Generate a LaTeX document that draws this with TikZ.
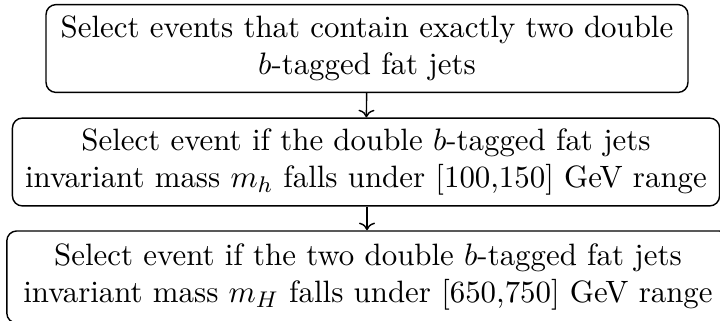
\documentclass[tikz,border=0pt]{standalone}
\usetikzlibrary{arrows.meta}
\begin{document}
\begin{tikzpicture}[x=0.353pt,y=-0.353pt,
  stepbox/.style={draw,rounded corners=3.5pt,line width=0.5pt,align=center,inner sep=0pt,minimum height=31pt,font=\fontsize{10.9pt}{13.1pt}\selectfont},
  flow/.style={->,line width=0.5pt}]
\useasboundingbox (0,0) rectangle (720,320);
\node[stepbox,minimum width=226.6pt] (a) at (367,48.5) {Select events that contain exactly two double\\$b$-tagged fat jets};
\node[stepbox,minimum width=249.6pt] (b) at (366,162) {Select event if the double $b$-tagged fat jets\\invariant mass $m_h$ falls under [100,150] GeV range};
\node[stepbox,minimum width=255pt,minimum height=32.5pt] (c) at (368,277) {Select event if the two double $b$-tagged fat jets\\invariant mass $m_H$ falls under [650,750] GeV range};
\draw[flow] (a) -- (b);
\draw[flow] (b.south -| a.south) -- (c.north -| a.south);
\end{tikzpicture}
\end{document}
